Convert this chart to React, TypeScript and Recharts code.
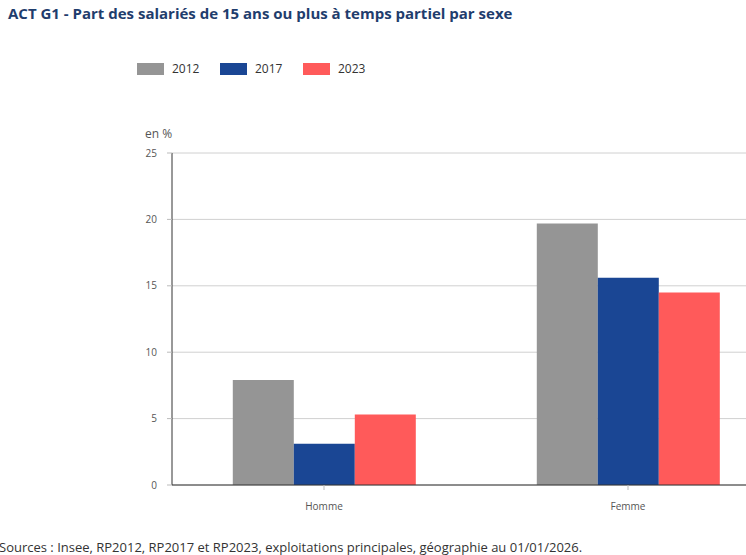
import React from 'react';
import { BarChart, Bar, XAxis, YAxis, CartesianGrid } from 'recharts';

const categories = ['Homme', 'Femme'];
const values2012 = [7.9, 19.7];
const values2017 = [3.1, 15.6];
const values2023 = [5.3, 14.5];
const yTicks = [0, 5, 10, 15, 20, 25];
const seriesNames = ['2012', '2017', '2023'];
const seriesColors = ['#959595', '#1a4694', '#ff5a5a'];

const data = categories.map((name, i) => ({
    name,
    v2012: values2012[i],
    v2017: values2017[i],
    v2023: values2023[i],
}));

const FONT = '"Open Sans", "Noto Sans", sans-serif';

const App: React.FC = () => {
    const legendX = [137, 220, 303];
    return (
        <div style={{ position: 'absolute', left: 0, top: 0, width: 746, height: 555, overflow: 'hidden', background: '#fff', fontFamily: FONT }}>
            <div style={{ position: 'absolute', left: 8, top: 3, fontSize: 15, fontWeight: 700, color: '#1f3d6d', whiteSpace: 'nowrap' }}>
                ACT G1 - Part des salariés de 15 ans ou plus à temps partiel par sexe
            </div>

            {seriesNames.map((s, i) => (
                <div key={s} style={{ position: 'absolute', left: legendX[i], top: 60, display: 'flex', alignItems: 'center', fontSize: 12, color: '#333' }}>
                    <div style={{ width: 27, height: 12, background: seriesColors[i], marginRight: 8 }}></div>
                    <span>{s}</span>
                </div>
            ))}

            <div style={{ position: 'absolute', left: 145, top: 125, fontSize: 12, color: '#555' }}>en %</div>

            <div style={{ position: 'absolute', left: 0, top: 0 }}>
                <BarChart
                    width={790}
                    height={520}
                    data={data}
                    margin={{ top: 153, right: 10, left: 0, bottom: 5 }}
                    barCategoryGap="20%"
                    barGap={0}
                >
                    <CartesianGrid vertical={false} stroke="#d0d0d0" />
                    <XAxis
                        dataKey="name"
                        height={30}
                        axisLine={{ stroke: '#333' }}
                        tickLine={{ stroke: '#bbb' }}
                        tickSize={5}
                        tickMargin={13}
                        tick={{ fontSize: 10, fill: '#555', fontFamily: FONT }}
                    />
                    <YAxis
                        width={172}
                        domain={[0, 25]}
                        ticks={yTicks}
                        interval={0}
                        axisLine={{ stroke: '#333' }}
                        tickLine={{ stroke: '#bbb' }}
                        tickSize={5}
                        tickMargin={10}
                        tick={{ fontSize: 10, fill: '#555', fontFamily: FONT }}
                    />
                    <Bar dataKey="v2012" name="2012" fill={seriesColors[0]} isAnimationActive={false} />
                    <Bar dataKey="v2017" name="2017" fill={seriesColors[1]} isAnimationActive={false} />
                    <Bar dataKey="v2023" name="2023" fill={seriesColors[2]} isAnimationActive={false} />
                </BarChart>
            </div>

            <div style={{ position: 'absolute', left: -1, top: 538, fontSize: 13, color: '#333', whiteSpace: 'nowrap' }}>
                Sources : Insee, RP2012, RP2017 et RP2023, exploitations principales, géographie au 01/01/2026.
            </div>
        </div>
    );
};

export default App;
